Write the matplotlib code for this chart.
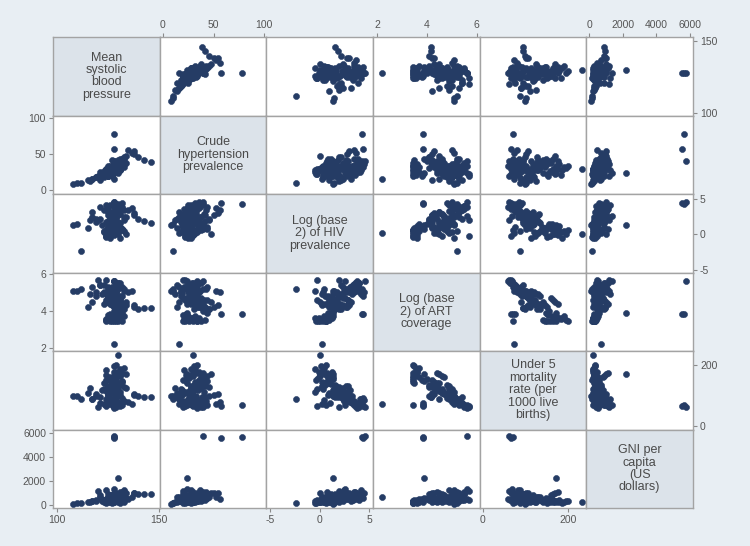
import matplotlib
matplotlib.use("Agg")
import matplotlib.pyplot as plt
import numpy as np

BG = "#e8eef3"
DIAG = "#dce3ea"
EDGE = "#a3a3a3"
DOT = "#253c65"
TXT = "#4a4a4a"

nan = np.nan

# one row per observation (country-year)
sbp = [127, 123, 131, 128, 125, 129, 132, 137, 135, 117, 121, 124, 132, 128, 130, 128, 120, 129, 125, 133,
       121, 130, 128, 124, 126, 134, 125, 130, 131, 123, 127, 129, 127, 125, 133, 131, 119, 128, 129, 124,
       146, 143, 140, 138, 138, 124, 126, 128, 130, 132, 127, 129, 131, 133, 129, 128, 130, 126, 125, 132,
       125, 127, 129, 131, 134, 123, 126, 132, 108, 110, 112, 115, 116, 117, 119, 128, 128, 128, 128, 130,
       124, 127, 126, 129, 130, 127, 125, 128, 131, 126,
       126, 128, 130, 124, 127, 129, 131, 125, 128, 130, 122, 127, 129, 133, 126, 128, 124, 131, 127, 129]
hyp = [22, 26, 30, 34, 20, 38, 44, 52, 56, 16, 14, 28, 32, 36, 40, 24, 20, 30, 33, 37,
       25, 29, 26, 30, 34, 38, 20, 42, 28, 24, 32, 36, 22, 27, 46, 31, 18, 40, 26, 29,
       39, 42, 46, 50, 54, 22, 26, 30, 34, 38, 42, 36, 28, 32, 34, 31, 30, 25, 20, 44,
       28, 34, 38, 44, 48, 18, 25, 40, 8, 10, 10, 14, 12, 16, 18, 78, 57, 40, 16, 24,
       22, 20, 23, 31, 35, 27, 21, 33, 29, 24,
       27, 31, 35, 23, 29, 33, 39, 26, 30, 36, 19, 28, 32, 43, 25, 35, 21, 41, 30, 34]
hiv = [3.2, 3.4, 3.6, 3.8, 2.8, 4.0, 3.9, 3.7, 3.5, 2.4, 2.2, 4.2, 4.4, 4.5, 4.3, 2.6, 2.0, 3.0, 3.3, 2.5,
       3.9, 4.0, 1.5, 1.8, 2.1, 2.4, 1.2, 2.7, 0.8, 0.5, 0.2, 1.0, 2.9, 3.1, 2.0, 1.6, 2.2, 1.4, 2.6, -0.3,
       1.6, 1.9, 2.2, 2.8, 3.0, -0.4, -0.2, 0.0, 0.3, 0.6, 0.9, 1.2, -0.5, 0.4, 0.6, 0.1, 0.0, 1.4, 1.0, 0.8,
       0.2, 0.5, 0.8, 1.1, 0.0, 0.3, -0.5, 0.7, 1.3, 1.5, -2.35, 0.9, 2.0, 3.2, 1.8, 4.3, 4.4, 4.6, 0.2, 1.3,
       -0.3, 0.6, 1.0, 2.3, 1.7, 0.4, 3.6, 2.9, 0.9, 1.9,
       2.7, 3.1, 1.1, 0.6, 2.4, 3.4, 0.9, 1.9, -0.1, 3.7, 1.3, 0.2, 2.6, 3.5, 4.1, 1.7, 0.3, 2.9, 1.5, 3.8]
art = [5.3, 5.4, 5.5, 5.6, 5.2, 5.5, 5.3, 5.1, 5.0, 5.3, 5.4, 4.9, 4.8, 5.0, 5.2, 5.6, 5.7, 5.0, 4.9, 5.1,
       5.4, 5.5, 4.6, 4.5, 4.4, 4.3, 4.7, 4.2, 4.8, 4.4, 4.3, 4.2, 4.6, 4.5, 4.1, 4.1, 4.8, 4.0, 4.7, 4.6,
       4.15, 4.15, 4.1, 4.2, 4.3, 3.45, 3.45, 3.45, 3.45, 3.45, 3.5, 3.6, 3.6, 3.7, 3.45, 3.5, nan, 3.7, 3.8, 3.9,
       4.9, 4.8, 4.7, 4.6, 4.5, 5.0, 5.1, 4.4, 5.1, 5.1, 5.2, 4.2, 4.9, 4.5, 5.0, 3.85, 3.85, 5.6, 2.2, 3.9,
       5.7, 3.45, 3.85, 4.9, 4.6, 5.2, 5.3, 4.4, 3.55, 4.7,
       5.0, 5.3, 4.3, 3.5, 4.7, 5.4, 4.5, 4.8, 3.6, 5.5, 4.9, 4.4, 5.1, 5.2, 5.0, 4.2, 3.55, 4.6, 4.5, 5.3]
u5 = [78, 72, 66, 60, 84, 63, 70, 74, 80, 90, 95, 88, 92, 85, 78, 68, 62, 96, 100, 82,
      76, 70, 110, 115, 120, 125, 105, 130, 102, 140, 145, 150, 112, 118, 128, 135, 100, 155, 108, 122,
      95, 95, 98, 102, 105, 150, 158, 165, 172, 145, 140, 178, 185, 190, 200, 195, 233, 162, 152, 148,
      130, 135, 160, 165, 170, 120, 112, 175, 98, 100, 88, 110, 125, 90, 105, 70, 65, 62, 74, 171,
      66, 70, 75, 95, 118, 86, 72, 132, 168, 108,
      92, 80, 138, 168, 110, 76, 142, 104, 176, 68, 118, 128, 94, 84, 88, 132, 182, 112, 120, 74]
gni = [820, 450, 1100, 520, 900, 380, 610, 700, 480, 300, 650, 1250, 560, 1000, 720, 1350, 1150, 780, 430, 1200,
       860, 940, 420, 480, 520, 580, 350, 640, 300, 260, 330, 380, 560, 620, 700, 450, 400, 500, 760, 240,
       900, 950, 880, 960, 1000, 180, 220, 260, 300, 340, 400, 450, 200, 260, 360, 320, 240, 520, 480, 560,
       600, 700, 800, 900, 1000, 420, 350, 1100, 120, 180, 150, 220, 260, 340, 300, 5650, 5550, 5750, 700, 2200,
       450, 200, 280, 640, 820, 380, 540, 460, 300, 680,
       480, 620, 360, 260, 540, 760, 420, 380, 220, 900, 330, 500, 680, 1050, 820, 560, 240, 600, 440, 980]

labels = [
    "Mean\nsystolic\nblood\npressure",
    "Crude\nhypertension\nprevalence",
    "Log (base\n2) of HIV\nprevalence",
    "Log (base\n2) of ART\ncoverage",
    "Under 5\nmortality\nrate (per\n1000 live\nbirths)",
    "GNI per\ncapita\n(US\ndollars)",
]
ticks = [[100, 150], [0, 50, 100], [-5, 0, 5], [2, 4, 6], [0, 200], [0, 2000, 4000, 6000]]
xlims = [(98, 150.5), (-3, 102), (-5.4, 5.4), (1.84, 6.12), (-7, 242), (-180, 6180)]
ylims = [(98, 153), (-5.5, 104), (-5.4, 5.7), (1.83, 6.08), (-10, 245), (-250, 6250)]


def main() -> None:
    plt.rcParams["font.family"] = ["Liberation Sans", "DejaVu Sans"]
    plt.rcParams["axes.unicode_minus"] = False
    data = [sbp, hyp, hiv, art, u5, gni]
    n = len(data)
    fig, axes = plt.subplots(n, n, figsize=(7.5, 5.46), dpi=100)
    fig.patch.set_facecolor(BG)
    fig.subplots_adjust(left=53 / 750, right=693 / 750, top=1 - 37 / 546, bottom=1 - 508 / 546,
                        wspace=0, hspace=0)
    for i in range(n):
        for j in range(n):
            ax = axes[i][j]
            ax.set_xlim(*xlims[j])
            ax.set_ylim(*ylims[i])
            for sp in ax.spines.values():
                sp.set_color(EDGE)
                sp.set_linewidth(1.0)
            ax.tick_params(which="both", bottom=False, top=False, left=False, right=False,
                           labelbottom=False, labeltop=False, labelleft=False, labelright=False,
                           direction="out", length=3, width=0.8, color="#8a8a8a",
                           labelsize=7.5, labelcolor="#555555", pad=2)
            ax.set_xticks(ticks[j])
            ax.set_yticks(ticks[i])
            if i == j:
                ax.set_facecolor(DIAG)
                ax.text(0.5, 0.5, labels[i], transform=ax.transAxes, ha="center", va="center",
                        fontsize=9, color=TXT, linespacing=1.05)
            else:
                ax.set_facecolor("white")
                ax.scatter(data[j], data[i], s=19, color=DOT, edgecolors=DOT, linewidths=0.4, zorder=3)
            if i == 0 and j % 2 == 1:
                ax.tick_params(top=True, labeltop=True)
            if i == n - 1 and j % 2 == 0:
                ax.tick_params(bottom=True, labelbottom=True)
            if j == 0 and i % 2 == 1:
                ax.tick_params(left=True, labelleft=True)
            if j == n - 1 and i % 2 == 0:
                ax.tick_params(right=True, labelright=True)
    fig.savefig("out.png", dpi=100, facecolor=BG)
    plt.close(fig)


if __name__ == "__main__":
    main()
